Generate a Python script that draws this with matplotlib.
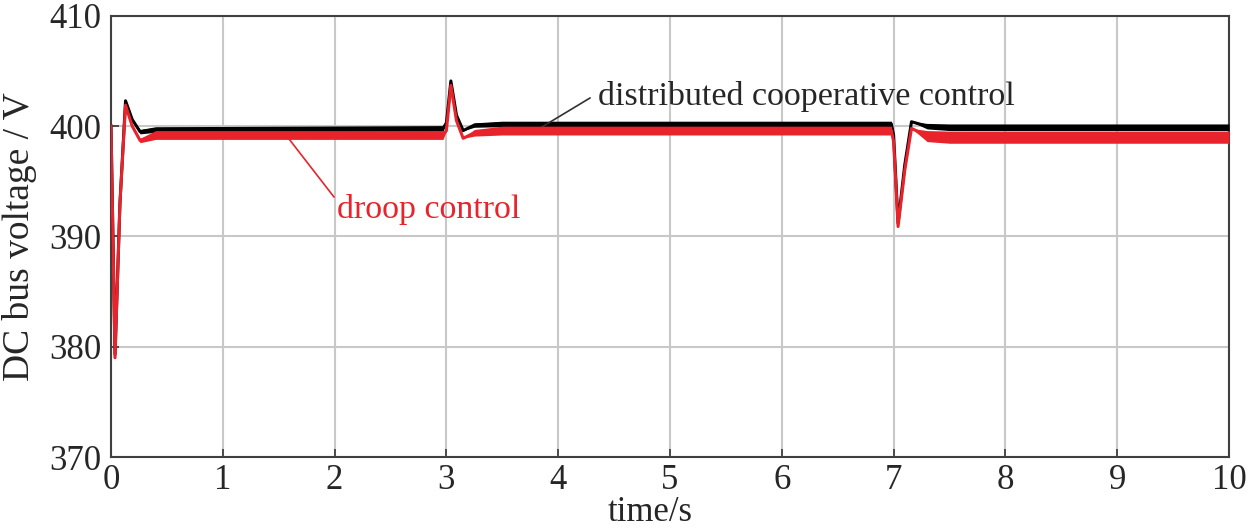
import matplotlib
matplotlib.use("Agg")
import matplotlib.pyplot as plt
import numpy as np

plt.rcParams['font.family'] = ['Liberation Serif', 'DejaVu Serif']

# key points (time in s, voltage in V, half band of the ripple in V)
t_dist = [0, 0.036, 0.08, 0.13, 0.19, 0.26, 0.4, 2.97, 3.0, 3.04, 3.09, 3.15, 3.25, 3.5,
          6.98, 7.0, 7.04, 7.1, 7.16, 7.3, 7.5, 10]
v_dist = [400, 379.3, 393, 402.3, 400.6, 399.5, 399.7, 399.8, 400.3, 404.1, 401, 399.6, 400.1, 400.2,
          400.2, 399.2, 391.2, 396.5, 400.4, 400.0, 399.9, 399.9]
w_dist = [0, 0, 0, 0, 0, 0.2, 0.25, 0.25, 0, 0, 0, 0, 0.2, 0.25,
          0.25, 0, 0, 0, 0, 0.25, 0.3, 0.3]

t_droop = t_dist
v_droop = [400, 379.0, 393, 401.9, 400.0, 398.7, 399.2, 399.2, 399.6, 403.7, 400.5, 398.9, 399.4, 399.6,
           399.6, 398.6, 390.9, 396, 399.8, 399.1, 399.0, 399.0]
w_droop = [0, 0, 0, 0, 0, 0.2, 0.4, 0.4, 0, 0, 0, 0, 0.3, 0.4,
           0.4, 0, 0, 0, 0, 0.5, 0.55, 0.55]

x_ticks = [0, 1, 2, 3, 4, 5, 6, 7, 8, 9, 10]
y_ticks = [370, 380, 390, 400, 410]

red = '#e8232b'
ink = '#262626'

fig = plt.figure(figsize=(12.5, 5.29), dpi=100)
ax = fig.add_axes([0.0888, 0.136, 0.8944, 0.834])

td = np.array(t_dist)
vd = np.array(v_dist)
wd = np.array(w_dist)
tr = np.array(t_droop)
vr = np.array(v_droop)
wr = np.array(w_droop)

ax.fill_between(td, vd - wd, vd + wd, color='black', lw=0, zorder=3)
ax.plot(td, vd, color='black', lw=2.2, zorder=3)
ax.fill_between(tr, vr - wr, vr + wr, color=red, lw=0, zorder=4)
ax.plot(tr, vr, color=red, lw=2.2, zorder=4)

ax.set_xlim(0, 10)
ax.set_ylim(370, 410)
ax.set_xticks(x_ticks)
ax.set_yticks(y_ticks)
ax.grid(True, color='#c8c8c8', lw=1.5, zorder=0)
ax.tick_params(direction='in', length=6, width=1.3, color='#404040', labelcolor=ink,
               labelsize=25)
ax.tick_params(axis='x', pad=5)
ax.tick_params(axis='y', pad=7)
for s in ax.spines.values():
    s.set_color('#404040')
    s.set_linewidth(1.5)

ax.set_xlabel('time/s', fontsize=25, color=ink)
ax.xaxis.set_label_coords(0.482, -0.088)
ax.set_ylabel('DC bus voltage / V', fontsize=27, color=ink)
ax.yaxis.set_label_coords(-0.066, 0.5)

ax.annotate('distributed cooperative control', xy=(3.85, 399.9), xytext=(4.36, 402.7),
            fontsize=24.5, color=ink, va='center', ha='left',
            arrowprops=dict(arrowstyle='-', color='#303030', lw=1.2, shrinkA=0, shrinkB=0,
                            relpos=(-0.02, 0.45)))
ax.annotate('droop control', xy=(1.58, 399.0), xytext=(2.02, 392.4),
            fontsize=24.5, color=red, va='center', ha='left',
            arrowprops=dict(arrowstyle='-', color=red, lw=1.2, shrinkA=0, shrinkB=0,
                            relpos=(0, 0.8)))

fig.savefig('out.png', dpi=100)
